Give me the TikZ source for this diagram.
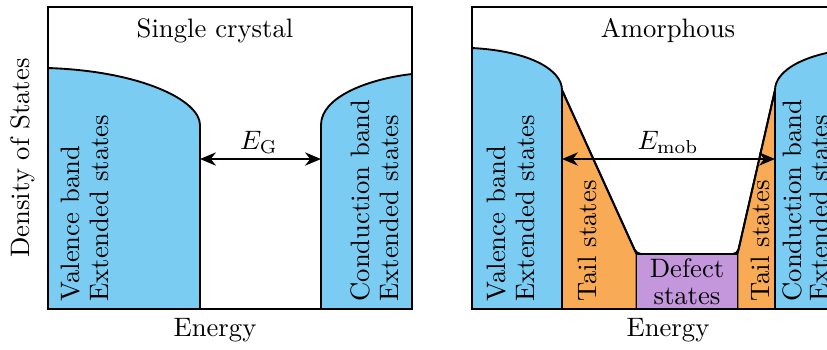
\documentclass[tikz,border=0pt]{standalone}
\usetikzlibrary{arrows.meta}
\definecolor{bandblue}{RGB}{122,204,242}
\definecolor{tailorange}{RGB}{248,170,85}
\definecolor{defectpurple}{RGB}{196,150,220}
\begin{document}
\begin{tikzpicture}[x=0.375pt,y=-0.375pt,
  band/.style={fill=bandblue,draw=black,line width=0.7pt,line join=round},
  tail/.style={fill=tailorange,draw=black,line width=0.7pt,line join=round},
  defect/.style={fill=defectpurple,draw=black,line width=0.7pt},
  valley/.style={draw=black,line width=0.7pt,rounded corners=1.8pt},
  frame/.style={draw=black,line width=0.5pt},
  vlabel/.style={rotate=90,anchor=west,inner sep=0pt},
  gaparrow/.style={{Stealth[length=6pt,width=5pt]}-{Stealth[length=6pt,width=5pt]},line width=0.6pt}]
\useasboundingbox (0,0) rectangle (827,349);
\clip (0,0) rectangle (827,349);
% ---------- left panel: single crystal ----------
\path[band] (48,309) -- (48,68) .. controls (140,71) and (200,100) .. (200,125) -- (200,309) -- cycle;
\path[band] (412,309) -- (412,74) .. controls (368,79) and (321,97) .. (321,125) -- (321,309) -- cycle;
\draw[frame] (48,7) rectangle (412,309);
\node[vlabel] (vbl1) at (71,302) {Valence band};
\node[vlabel] (vbl2) at (99,302) {Extended states};
\node[vlabel] (cbl1) at (360,302) {Conduction band};
\node[vlabel] (cbl2) at (389,302) {Extended states};
\coordinate (gapL) at (200,159);
\coordinate (gapR) at (321,159);
\draw[gaparrow] (gapL) -- (gapR);
\node (eg) at (259,142) {$E_{\mathrm{G}}$};
\node (title1) at (215,31) {Single crystal};
\node (energy1) at (215,330) {Energy};
\node[rotate=90] (dos) at (23,158) {Density of States};
% ---------- right panel: amorphous ----------
\path[band] (472,309) -- (472,48) .. controls (530,51) and (562,70) .. (562,90) -- (562,309) -- cycle;
\path[tail] (562,309) -- (562,90) -- (636.5,254) -- (636.5,309) -- cycle;
\path[tail] (737.5,309) -- (737.5,254) -- (775,90) -- (775,309) -- cycle;
\path[defect] (636.5,309) -- (636.5,254) -- (737.5,254) -- (737.5,309);
\path[valley] (562,90) -- (636.5,254) -- (737.5,254) -- (775,90);
\path[band] (775,309) -- (775,90) .. controls (775,70) and (807,51) .. (865,48) -- (865,309) -- cycle;
\draw[frame] (472,7) rectangle (865,309);
\node[vlabel] (vbr1) at (497,302) {Valence band};
\node[vlabel] (vbr2) at (525,302) {Extended states};
\node[vlabel] (tail1) at (587,302) {Tail states};
\node[vlabel] (tail2) at (760,302) {Tail states};
\node[vlabel] (cbr1) at (792,302) {Conduction band};
\node[vlabel] (cbr2) at (819,302) {Extended states};
\node[align=center,inner sep=0pt] (defl) at (687,282) {Defect\\[-2pt]states};
\coordinate (mobL) at (562,159);
\coordinate (mobR) at (775,159);
\draw[gaparrow] (mobL) -- (mobR);
\node (emob) at (668,142) {$E_{\mathrm{mob}}$};
\node (title2) at (668,31) {Amorphous};
\node (energy2) at (668,330) {Energy};
\end{tikzpicture}
\end{document}
